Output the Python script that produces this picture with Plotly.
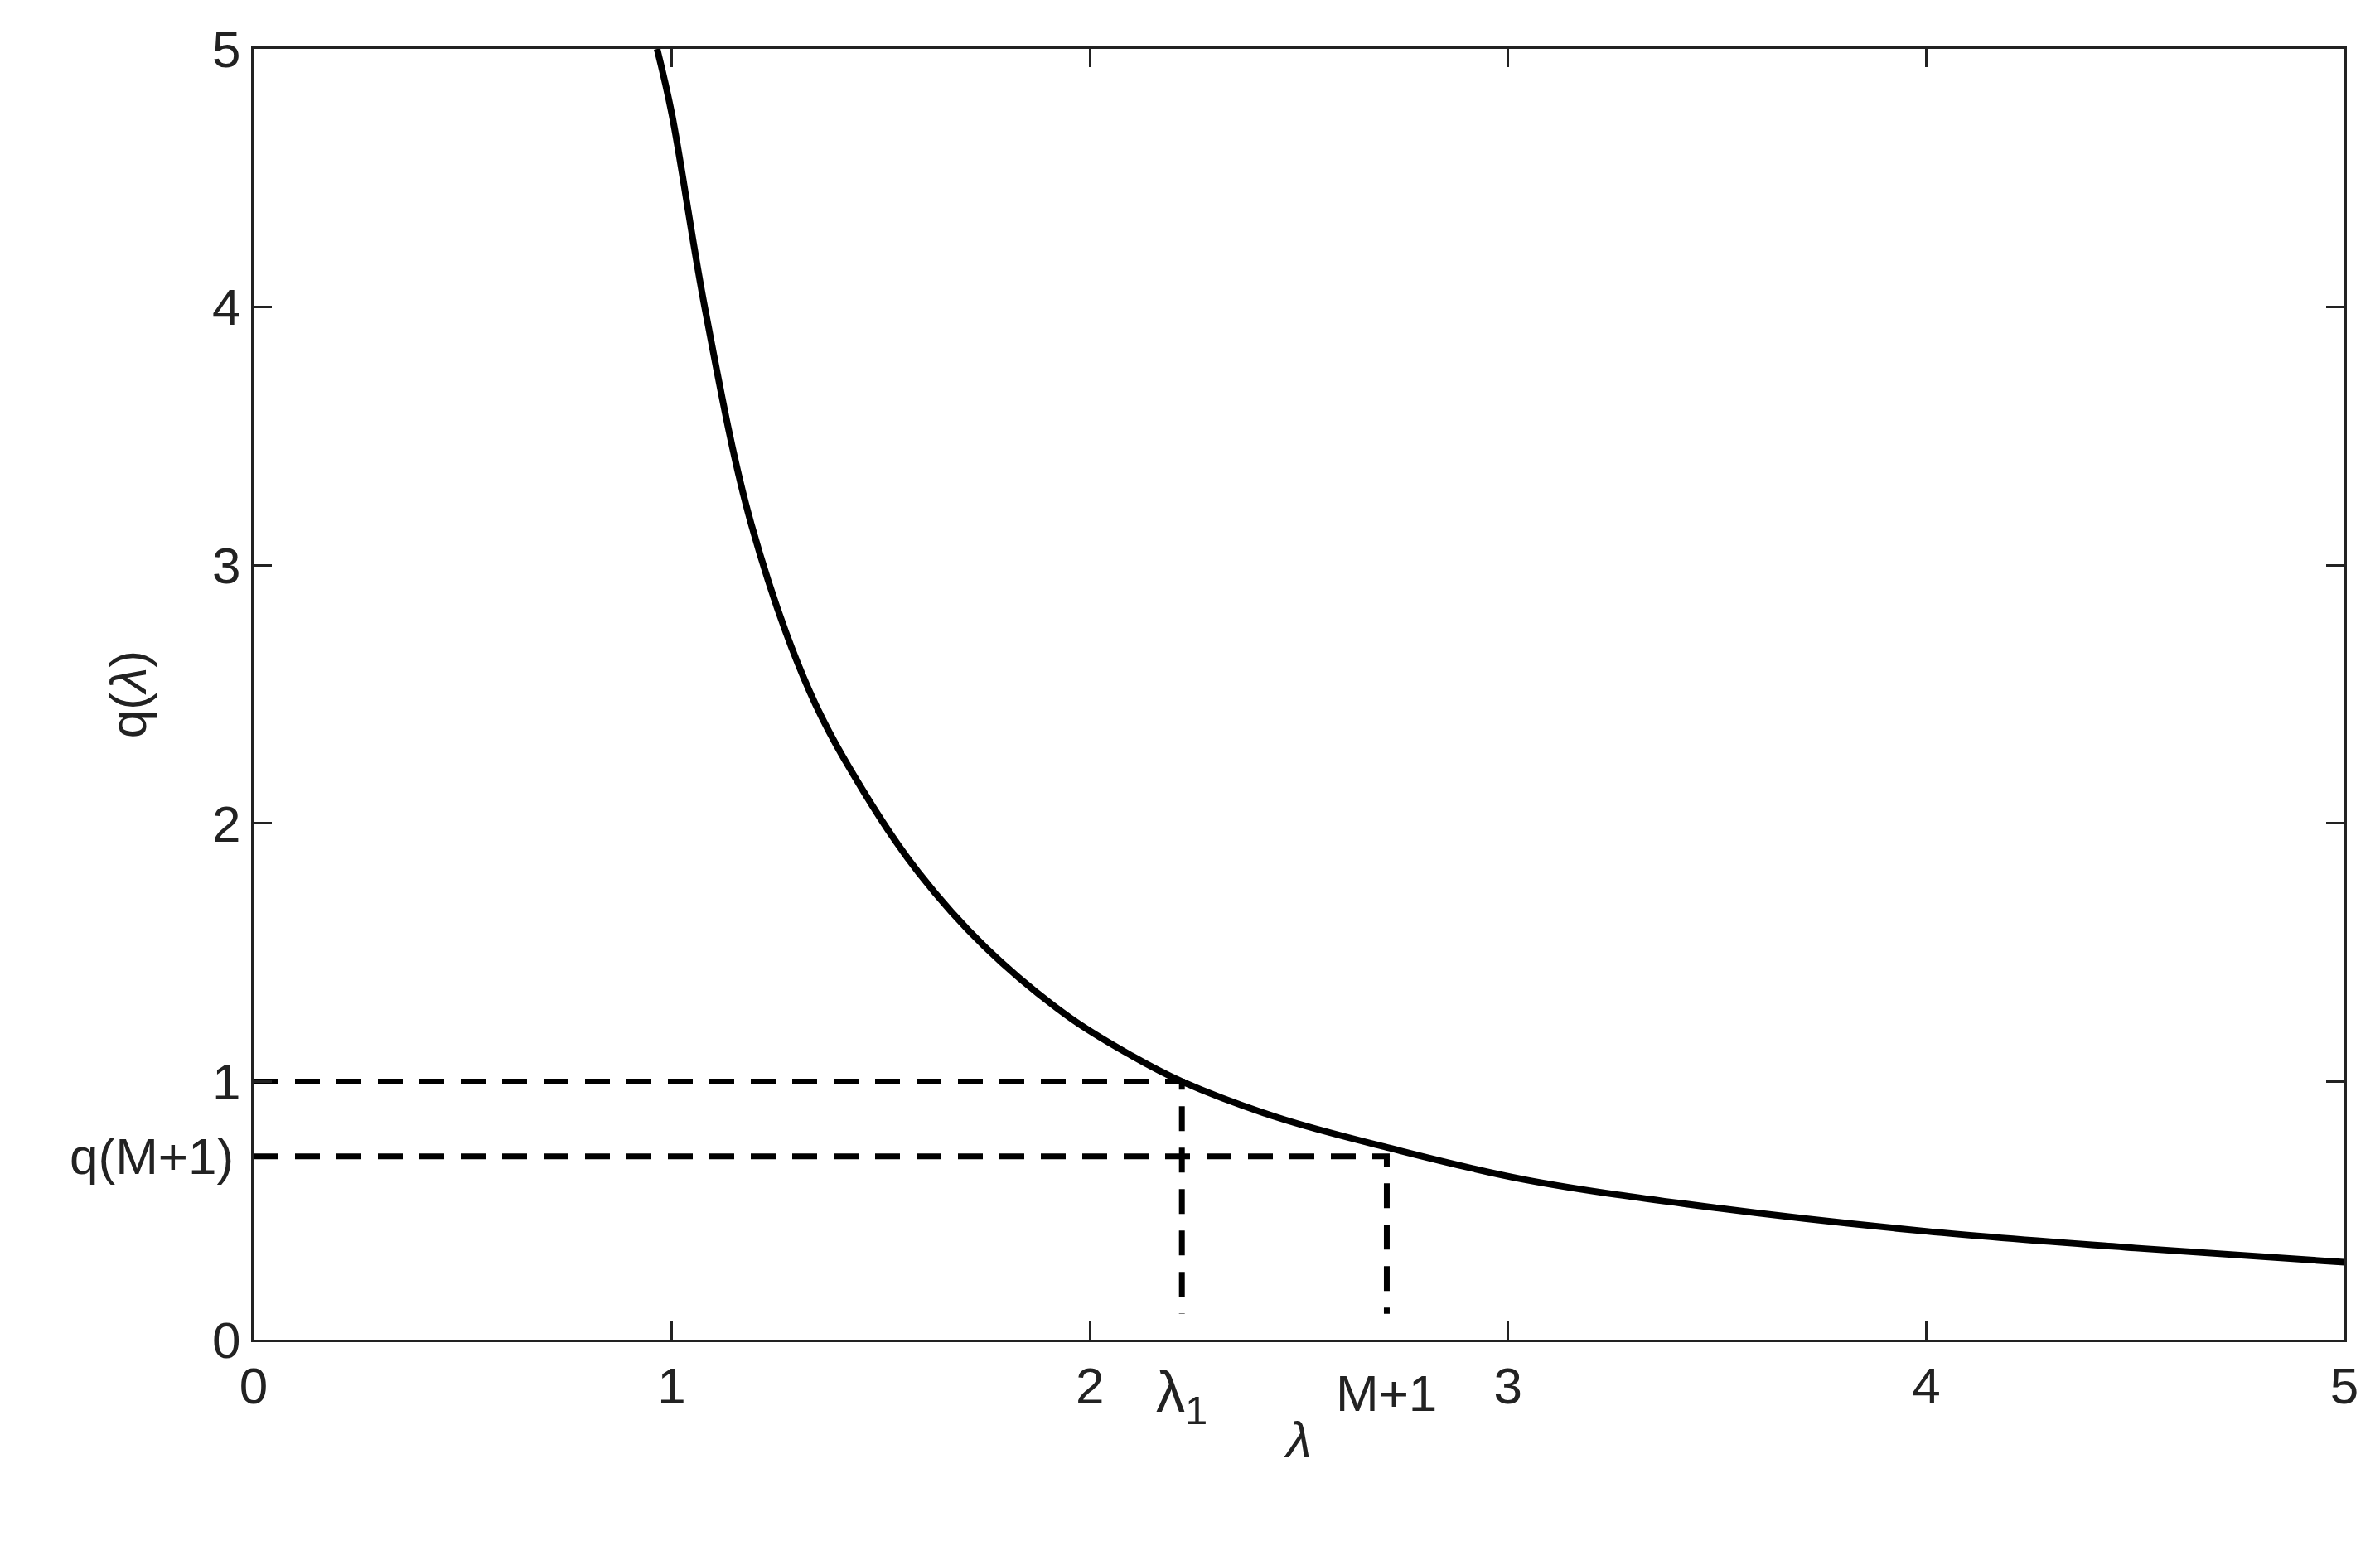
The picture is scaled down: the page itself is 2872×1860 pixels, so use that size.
import plotly.graph_objects as go

# curve points
lam = [0.965, 1.0, 1.08, 1.19, 1.33, 1.46, 1.59, 1.75, 1.95, 2.1, 2.22, 2.45, 2.71, 3.04, 3.5, 4.0, 4.5, 5.0]
q = [5.0, 4.75, 3.99, 3.16, 2.51, 2.12, 1.81, 1.52, 1.25, 1.1, 1.0, 0.86, 0.745, 0.62, 0.51, 0.42, 0.355, 0.30]

lam1 = 2.22
m1 = 2.71
q_m1 = 0.71
drop_end = 0.1

fig = go.Figure()
fig.add_trace(go.Scatter(x=lam, y=q, mode="lines", line=dict(color="black", width=8, shape="spline", smoothing=1.0)))
dash = dict(color="black", width=7, dash="30px,20px")
fig.add_trace(go.Scatter(x=[0, lam1, lam1], y=[1, 1, drop_end], mode="lines", line=dash))
fig.add_trace(go.Scatter(x=[0, m1, m1], y=[q_m1, q_m1, drop_end], mode="lines", line=dash))

fnt = dict(family="Liberation Sans, Arial", size=62, color="#222222")
fig.add_annotation(x=lam1, y=0, text="λ<sub>1</sub>", showarrow=False, yanchor="top", yshift=-22,
                   font=dict(family="Liberation Sans, Arial", size=70, color="#222222"))
fig.add_annotation(x=m1, y=0, text="M+1", showarrow=False, yanchor="top", yshift=-28, font=fnt)
fig.add_annotation(x=0, y=q_m1, text="q(M+1)", showarrow=False, xanchor="right", xshift=-22, font=fnt)

axis = dict(showline=True, linecolor="#222222", linewidth=3, mirror="ticks", ticks="inside",
            ticklen=22, tickwidth=3, tickcolor="#222222", showgrid=False, zeroline=False,
            tickfont=fnt, dtick=1)
fig.update_xaxes(axis, range=[0, 5], title=dict(text="<i>λ</i>", font=fnt, standoff=10))
fig.update_yaxes(axis, range=[0, 5], title=dict(text="q(<i>λ</i>)", font=fnt, standoff=60))
fig.update_layout(showlegend=False, plot_bgcolor="white", paper_bgcolor="white",
                  margin=dict(l=298, r=51, t=51, b=251), width=2872, height=1860)
fig.write_html("out.html")
